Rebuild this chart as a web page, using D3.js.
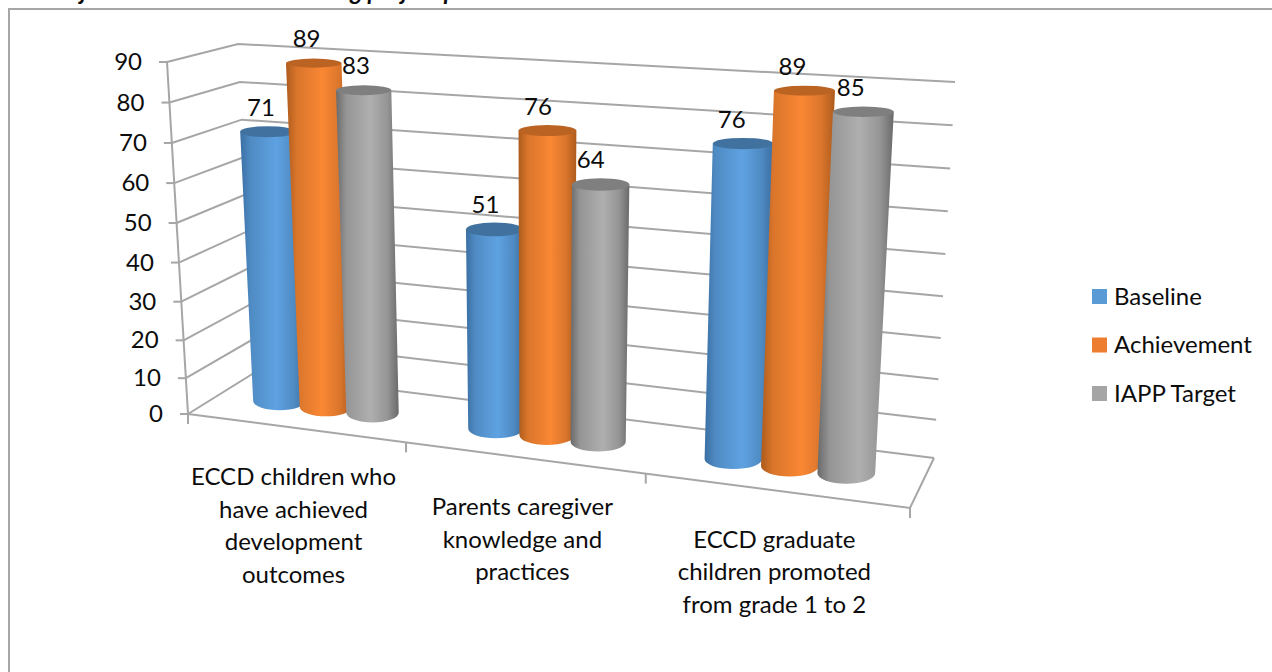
<!DOCTYPE html>
<html>
<head>
<meta charset="utf-8">
<script src="https://cdn.jsdelivr.net/npm/d3@7/dist/d3.min.js"></script>
<style>
  html, body { margin: 0; padding: 0; background: #fff; }
  svg { display: block; }
  text { font-family: Lato, "Open Sans", sans-serif; fill: #0c0c0c; }
</style>
</head>
<body>
<svg id="chart" width="1272" height="672"></svg>
<script>
// Chart values
const categories = [
  ["ECCD children who", "have achieved", "development", "outcomes"],
  ["Parents caregiver", "knowledge and", "practices"],
  ["ECCD graduate", "children promoted", "from grade 1 to 2"]
];
const seriesNames = ["Baseline", "Achievement", "IAPP Target"];
const baseline = [71, 51, 76];
const achievement = [89, 76, 89];
const iappTarget = [83, 64, 85];
const yTicks = [0, 10, 20, 30, 40, 50, 60, 70, 80, 90];

// Cylinder shading: edge, mid, highlight, top cap, legend swatch
const palettes = [
  { edge: "#3a6fa3", mid: "#4f8bc3", light: "#5fa2e2", cap: "#41729f", key: "#5b9bd5" },
  { edge: "#ad5b1d", mid: "#d9752b", light: "#fa8734", cap: "#bb6322", key: "#ed7d31" },
  { edge: "#6a6a6a", mid: "#959595", light: "#afafaf", cap: "#7f7f7f", key: "#a5a5a5" }
];

const svg = d3.select("#chart");
const GRID = "#a6a6a6";

// Box corners of the tilted 3D scene, in page pixels
const box = {
  flb: [188, 414], flt: [167, 62],
  blb: [254, 373], blt: [238, 44],
  frb: [910, 508], frt: [934, 106],
  brb: [934, 458], brt: [955, 82]
};

// Foreshortening along the width and height of the scene
const uScale = d3.scaleLinear().domain([0, 1 / 3, 2 / 3, 1]).range([0, 0.302, 0.634, 1]);
const vScale = d3.scalePow().exponent(1.04).domain([0, 90]).range([0, 1]);

// Trilinear blend of the box corners: u along categories, value upward, d into the depth
function project(u, value, d) {
  const s = uScale(u), t = vScale(value);
  const mix = (a, b, k) => [a[0] + (b[0] - a[0]) * k, a[1] + (b[1] - a[1]) * k];
  const bottom = mix(mix(box.flb, box.frb, s), mix(box.blb, box.brb, s), d);
  const top = mix(mix(box.flt, box.frt, s), mix(box.blt, box.brt, s), d);
  return mix(bottom, top, t);
}

const gridLine = d3.line();
function stroke(points, w) {
  svg.append("path").attr("d", gridLine(points)).attr("fill", "none")
    .attr("stroke", GRID).attr("stroke-width", w || 2);
}

// Outer frame of the chart area
stroke([[9, 672], [9, 9], [1272, 9]], 2);

// Heading line running above the frame, cut off by the page edge
const heading = svg.append("text").attr("y", 0).attr("font-size", 24)
  .attr("font-weight", 700).attr("font-style", "italic");
heading.append("tspan").attr("x", 47).text("Major");
heading.append("tspan").attr("x", 297).text("during project period");

// Walls and floor
yTicks.forEach(v => {
  stroke([project(0, v, 0), project(0, v, 1), project(1, v, 1)]);
});
stroke([project(0, 90, 0), project(0, 0, 0)]);
stroke([project(0, 0, 0), project(1, 0, 0), project(1, 0, 1)]);

// Value axis ticks and labels
yTicks.forEach(v => {
  const p = project(0, v, 0);
  stroke([[p[0] - 8, p[1]], p]);
  svg.append("text").attr("x", p[0] - 25).attr("y", p[1] + 8)
    .attr("text-anchor", "end").attr("font-size", 24).text(v);
});

// Category ticks and wrapped labels
const catEdges = [0, 1 / 3, 2 / 3, 1];
catEdges.forEach(u => {
  const p = project(u, 0, 0);
  stroke([p, [p[0], p[1] + 10]]);
});
categories.forEach((lines, i) => {
  const a = project(catEdges[i], 0, 0), b = project(catEdges[i + 1], 0, 0);
  const cx = (a[0] + b[0]) / 2 - 3.5, cy = (a[1] + b[1]) / 2 + 48;
  lines.forEach((line, j) => {
    svg.append("text").attr("x", cx).attr("y", cy + j * 32.6 + 9)
      .attr("text-anchor", "middle").attr("font-size", 24).text(line);
  });
});

// Horizontal shading for the cylinder walls
const defs = svg.append("defs");
palettes.forEach((c, i) => {
  const g = defs.append("linearGradient").attr("id", "wall" + i);
  [[0, c.edge], [0.16, c.mid], [0.55, c.light], [0.82, c.mid], [1, c.edge]].forEach(([o, col]) => {
    g.append("stop").attr("offset", o).attr("stop-color", col);
  });
});

// One cylinder per series in each category; later series sit in front
const seriesValues = [baseline, achievement, iappTarget];
const BAR_STEP = 0.0733;
const barNudge = [-0.0014, -0.003, -0.005];
const barRadius = [0.0413, 0.0395, 0.0375];
const labelShift = d3.scaleLinear().domain([200, 900]).range([-8, -15]);
const capRy = d3.scaleLinear().domain([60, 480]).range([4.5, 10.5]);

categories.forEach((_, ci) => {
  const uc = (ci + 0.5) / 3 + barNudge[ci];
  seriesValues.forEach((values, si) => {
    const value = values[ci];
    const u = uc + (si - 1) * BAR_STEP;
    const r = barRadius[ci];
    const halfWidth = val => (project(u + r, val, 0.5)[0] - project(u - r, val, 0.5)[0]) / 2;
    const b = project(u, 0, 0.5), t = project(u, value, 0.5);
    const rb = halfWidth(0), rt = halfWidth(value);
    const ryb = capRy(b[1]), ryt = capRy(t[1]);

    svg.append("path")
      .attr("d", `M${t[0] - rt},${t[1]} L${b[0] - rb},${b[1]} A${rb},${ryb} 0 0 0 ${b[0] + rb},${b[1]} L${t[0] + rt},${t[1]} Z`)
      .attr("fill", `url(#wall${si})`);
    svg.append("ellipse").attr("cx", t[0]).attr("cy", t[1]).attr("rx", rt).attr("ry", ryt)
      .attr("fill", palettes[si].cap);

    svg.append("text").attr("x", t[0] + labelShift(t[0]) + 2).attr("y", t[1] - 24 + 8)
      .attr("text-anchor", "middle").attr("font-size", 24).text(value);
  });
});

// Legend
const legendY = d3.scalePoint().domain(seriesNames).range([296.5, 393.5]);
seriesNames.forEach((name, i) => {
  const y = legendY(name);
  svg.append("rect").attr("x", 1092).attr("y", y - 7.5).attr("width", 15).attr("height", 15)
    .attr("fill", palettes[i].key);
  svg.append("text").attr("x", 1114).attr("y", y + 8).attr("font-size", 24).text(name);
});
</script>
</body>
</html>
